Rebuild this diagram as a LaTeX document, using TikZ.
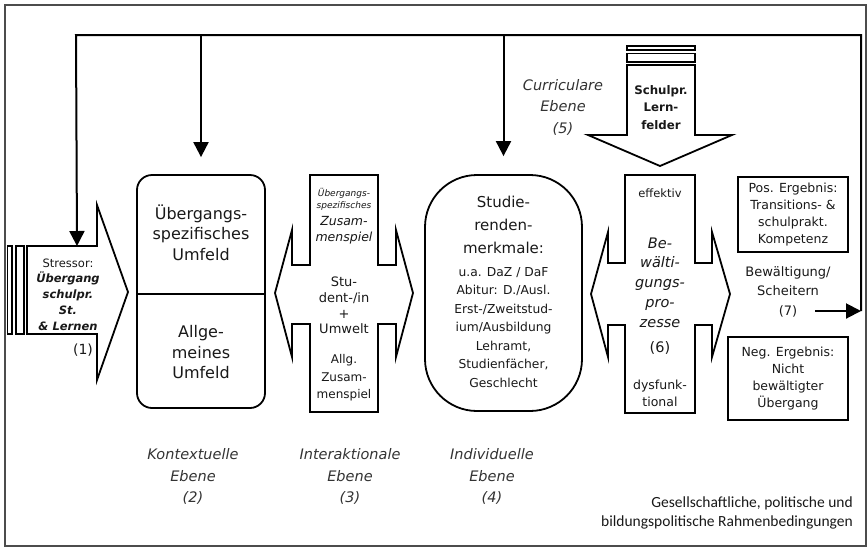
\documentclass[tikz,border=0pt]{standalone}
\usepackage{fontspec}
\setmainfont{DejaVu Sans}
\newfontfamily\calibrifont{Carlito}
\usetikzlibrary{arrows.meta}

\tikzset{
  form/.style={draw, line width=1.8pt, fill=white},
  txt/.style={align=center, inner sep=0pt, text=black!90},
  ebene/.style={txt, font=\fontsize{14.5}{21.5}\selectfont\itshape, text=black!80},
  rueck/.style={line width=2pt, -{Triangle[length=15pt,width=15pt]}},
  ergebnis/.style={draw, line width=1.8pt, align=center, inner sep=0pt, text=black!90, font=\fontsize{12.5}{17}\selectfont},
}

\begin{document}
\begin{tikzpicture}[x=1pt, y=-1pt]
\useasboundingbox (0,0) rectangle (867,550);

% Rahmen
\draw[black!70, line width=1.3pt] (5,5) rectangle (866,546);

% Stressor (1)
\draw[form] (7.5,246) rectangle (12,334);
\draw[form] (16,246) rectangle (24,334);
\draw[form] (27,246) -- (97,246) -- (97,205) -- (128,292) -- (97,380) -- (97,334) -- (27,334) -- cycle;
\coordinate (stressor) at (77,246);
\node[txt, font=\fontsize{11.5}{15.75}\selectfont] (stress) at (68,294.5) {Stressor:\\\textbf{\textit{Übergang}}\\\textbf{\textit{schulpr.}}\\\textbf{\textit{St.}}\\\textbf{\textit{\& Lernen}}};
\node[txt, font=\fontsize{14}{16}\selectfont] (eins) at (83,350) {(1)};

% Kontextuelle Ebene (2)
\node[form, rounded corners=15pt, minimum width=128pt, minimum height=233pt] (ctx) at (201,291.5) {};
\draw[line width=2.5pt] (137,294) -- (265,294);
\node[txt, font=\fontsize{16}{20.5}\selectfont] (spez) at (201,232.5) {Übergangs-\\spezifisches\\Umfeld};
\node[txt, font=\fontsize{16}{20.5}\selectfont] (allg) at (201,352.5) {Allge-\\meines\\Umfeld};

% Interaktionale Ebene (3)
\draw[form] (310,175) -- (378,175) -- (378,265) -- (396,265) -- (396,230) -- (413,293) -- (396,357) -- (396,324) -- (378,324) -- (378,412) -- (310,412) -- (310,324) -- (292,324) -- (292,357) -- (275,293) -- (292,230) -- (292,265) -- (310,265) -- cycle;
\node[txt, font=\fontsize{9}{12}\selectfont\itshape] (izs1) at (344,199) {Übergangs-\\spezifisches};
\node[txt, font=\fontsize{12.5}{16}\selectfont\itshape] (izs2) at (344,230) {Zusam-\\menspiel};
\node[txt, font=\fontsize{13}{15.7}\selectfont] (stu) at (344,305.5) {Stu-\\dent-/in\\+\\Umwelt};
\node[txt, font=\fontsize{12}{17.5}\selectfont] (izs3) at (344,378) {Allg.\\Zusam-\\menspiel};

% Individuelle Ebene (4)
\node[form, rounded corners=52pt, minimum width=157pt, minimum height=236pt] (stud) at (503.5,293) {};
\node[txt, font=\fontsize{15}{23}\selectfont] (merk) at (503.5,225) {Studie-\\renden-\\merkmale:};
\node[txt, font=\fontsize{12.3}{18.5}\selectfont] (merk2) at (503.5,327.5) {u.a. DaZ / DaF\\Abitur: D./Ausl.\\Erst-/Zweitstud-\\ium/Ausbildung\\Lehramt,\\Studienfächer,\\Geschlecht};

% Bewaeltigungsprozesse (6)
\draw[form] (625,175) -- (695,175) -- (695,263) -- (712,263) -- (712,232) -- (730,294) -- (712,357) -- (712,325) -- (695,325) -- (695,413) -- (625,413) -- (625,325) -- (608,325) -- (608,357) -- (591,294) -- (608,232) -- (608,263) -- (625,263) -- cycle;
\node[txt, font=\fontsize{11.5}{14}\selectfont] (eff) at (660,193) {effektiv};
\node[txt, font=\fontsize{14.5}{19.8}\selectfont\itshape] (bew) at (660,282.5) {Be-\\wälti-\\gungs-\\pro-\\zesse};
\node[txt, font=\fontsize{14.5}{18}\selectfont] (sechs) at (660,348) {(6)};
\node[txt, font=\fontsize{12.5}{17.5}\selectfont] (dysf) at (660,393.5) {dysfunk-\\tional};

% Curriculare Ebene (5)
\draw[form] (627,46) rectangle (695,50);
\draw[form] (627,53.5) rectangle (695,62);
\draw[form] (627,65) -- (695,65) -- (695,135) -- (732,135) -- (660,166) -- (588,135) -- (627,135) -- cycle;
\node[txt, font=\fontsize{11.8}{17.5}\selectfont\bfseries] (lern) at (661,107.5) {Schulpr.\\Lern-\\felder};
\node[ebene] (curr) at (563,107) {Curriculare\\Ebene\\(5)};

% Ergebnisse (7)
\node[ergebnis, minimum width=110pt, minimum height=75pt] (pos) at (793,214.5) {Pos. Ergebnis:\\Transitions- \&\\schulprakt.\\Kompetenz};
\node[txt, font=\fontsize{13}{19.5}\selectfont] (bew7) at (788,291.5) {Bewältigung/\\Scheitern\\(7)};
\node[ergebnis, minimum width=120pt, minimum height=83pt] (neg) at (788,378.5) {Neg. Ergebnis:\\Nicht\\bewältigter\\Übergang};

% Rueckkopplung
\coordinate (r7) at (815,311);
\coordinate (eck1) at (861,311);
\coordinate (eck2) at (861,35);
\coordinate (eck3) at (76,35);
\draw[rueck] (r7) -- (eck1);
\draw[rueck] (eck1) -- (eck2) -- (eck3) -- (stressor);
\draw[rueck, shorten >=17pt] (ctx.north |- eck2) -- (ctx.north);
\draw[rueck, shorten >=18pt] (stud.north |- eck2) -- (stud.north);

% Ebenen
\node[ebene] (kont) at (193,476.5) {Kontextuelle\\Ebene\\(2)};
\node[ebene] (inter) at (350,476.5) {Interaktionale\\Ebene\\(3)};
\node[ebene] (indiv) at (492,476.5) {Individuelle\\Ebene\\(4)};
\node[txt, anchor=east, align=right, font=\calibrifont\fontsize{15.5}{19}\selectfont] (rahmen) at (853,512.5) {Gesellschaftliche, politische und\\bildungspolitische Rahmenbedingungen};

\end{tikzpicture}
\end{document}
